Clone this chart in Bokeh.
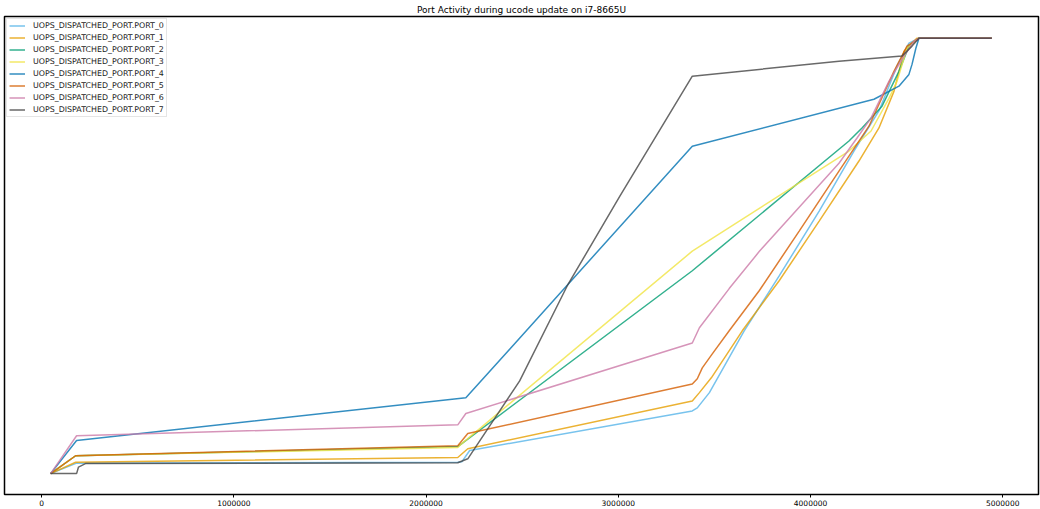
from bokeh.plotting import figure
from bokeh.models import Range1d, FixedTicker, NumeralTickFormatter, Legend, LegendItem
from bokeh.embed import file_html
from bokeh.resources import INLINE

# Cycle counts (x) and normalised cumulative uops dispatched (y) per port
labels = [f"UOPS_DISPATCHED_PORT.PORT_{i}" for i in range(8)]

port0_x = [47e3, 182e3, 2165e3, 2186e3, 2227e3, 3385e3, 3411e3, 3474e3, 3655e3, 3837e3, 4045e3, 4226e3, 4356e3, 4450e3, 4512e3, 4564e3, 4943e3]
port0_y = [0, 0.024, 0.026, 0.027, 0.053, 0.144, 0.151, 0.186, 0.328, 0.454, 0.603, 0.741, 0.833, 0.936, 0.989, 1.0, 1.0]

port1_x = [47e3, 177e3, 2165e3, 2217e3, 3385e3, 3422e3, 3484e3, 3645e3, 3837e3, 4045e3, 4252e3, 4356e3, 4434e3, 4486e3, 4553e3, 4943e3]
port1_y = [0, 0.026, 0.037, 0.057, 0.167, 0.186, 0.220, 0.328, 0.443, 0.580, 0.718, 0.794, 0.878, 0.970, 1.0, 1.0]

port2_x = [47e3, 177e3, 2165e3, 2186e3, 3385e3, 4200e3, 4268e3, 4372e3, 4460e3, 4512e3, 4564e3, 4943e3]
port2_y = [0, 0.041, 0.062, 0.069, 0.466, 0.764, 0.794, 0.844, 0.924, 0.982, 1.0, 1.0]

port3_x = [47e3, 177e3, 2165e3, 2186e3, 3385e3, 4200e3, 4315e3, 4408e3, 4450e3, 4502e3, 4564e3, 4943e3]
port3_y = [0, 0.041, 0.060, 0.069, 0.511, 0.741, 0.787, 0.862, 0.901, 0.977, 1.0, 1.0]

port4_x = [47e3, 182e3, 2207e3, 3385e3, 4330e3, 4460e3, 4512e3, 4528e3, 4548e3, 4564e3, 4943e3]
port4_y = [0, 0.076, 0.174, 0.752, 0.860, 0.890, 0.917, 0.940, 0.977, 1.0, 1.0]

port5_x = [47e3, 177e3, 2165e3, 2217e3, 3385e3, 3411e3, 3437e3, 3489e3, 3577e3, 3733e3, 3941e3, 4148e3, 4304e3, 4434e3, 4502e3, 4564e3, 4943e3]
port5_y = [0, 0.041, 0.064, 0.092, 0.206, 0.218, 0.243, 0.275, 0.328, 0.420, 0.557, 0.695, 0.798, 0.924, 0.982, 1.0, 1.0]

port6_x = [47e3, 182e3, 2165e3, 2207e3, 3385e3, 3422e3, 3577e3, 3733e3, 3941e3, 4148e3, 4242e3, 4315e3, 4408e3, 4486e3, 4538e3, 4564e3, 4943e3]
port6_y = [0, 0.087, 0.112, 0.138, 0.300, 0.335, 0.425, 0.510, 0.612, 0.713, 0.771, 0.817, 0.901, 0.959, 0.993, 1.0, 1.0]

port7_x = [47e3, 182e3, 192e3, 228e3, 2165e3, 2217e3, 2487e3, 2734e3, 3009e3, 3385e3, 4148e3, 4476e3, 4528e3, 4564e3, 4943e3]
port7_y = [0, 0, 0.015, 0.023, 0.025, 0.034, 0.213, 0.431, 0.638, 0.913, 0.947, 0.959, 0.982, 1.0, 1.0]

xs = [port0_x, port1_x, port2_x, port3_x, port4_x, port5_x, port6_x, port7_x]
ys = [port0_y, port1_y, port2_y, port3_y, port4_y, port5_y, port6_y, port7_y]
colors = ["#56B4E9", "#E69F00", "#009E73", "#F0E442", "#0072B2", "#D55E00", "#CC79A7", "#444444"]

x_ticks = [0, 1000000, 2000000, 3000000, 4000000, 5000000]

p = figure(width=1040, height=509, output_backend="svg", toolbar_location=None,
           x_range=Range1d(-193e3, 5186e3), y_range=Range1d(-0.048, 1.050),
           y_axis_location=None, title="Port Activity during ucode update on i7-8665U")
p.min_border_left = 4
p.min_border_right = 2
p.min_border_top = 15
p.min_border_bottom = 15
p.xgrid.visible = False
p.ygrid.visible = False
p.outline_line_color = "black"
p.outline_line_width = 1.5
p.background_fill_color = "white"
p.border_fill_color = "white"

p.title.align = "center"
p.title.text_font = "DejaVu Sans"
p.title.text_font_size = "9px"
p.title.text_font_style = "normal"
p.title.text_color = "black"
p.title.standoff = 4

ax = p.xaxis[0]
ax.ticker = FixedTicker(ticks=x_ticks)
ax.formatter = NumeralTickFormatter(format="0")
ax.axis_line_color = None
ax.major_tick_out = 3
ax.major_tick_in = 0
ax.minor_tick_line_color = None
ax.major_label_standoff = 2
ax.major_label_text_font = "DejaVu Sans"
ax.major_label_text_font_size = "7.5px"
ax.major_label_text_color = "black"

items = []
for lab, x, y, c in zip(labels, xs, ys, colors):
    r = p.line(x, y, line_color=c, line_width=1.5, line_alpha=0.8)
    items.append(LegendItem(label=lab, renderers=[r]))

legend = Legend(items=items, location="top_left")
legend.margin = 2
legend.padding = 2
legend.spacing = 3
legend.label_height = 9
legend.glyph_height = 9
legend.glyph_width = 16
legend.label_standoff = 8
legend.label_text_font = "DejaVu Sans"
legend.label_text_font_size = "7.9px"
legend.label_text_color = "#222222"
legend.border_line_color = "#cccccc"
legend.border_line_width = 1
legend.background_fill_alpha = 1.0
p.add_layout(legend, "center")

open("out.html", "w").write(file_html(p, INLINE))
